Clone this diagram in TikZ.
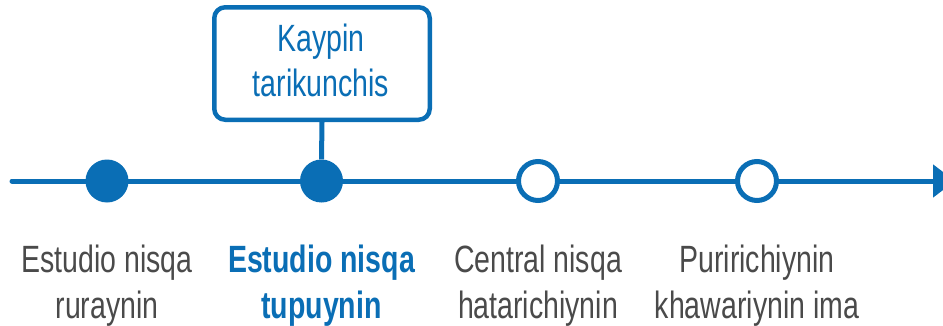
\documentclass[tikz,border=0pt]{standalone}
\usepackage{fontspec}
\setmainfont{Liberation Sans}[FakeStretch=0.75]
\usetikzlibrary{arrows.meta}
\definecolor{tlblue}{HTML}{0A6EB5}
\definecolor{tlgray}{HTML}{4A4A4A}
\begin{document}
\begin{tikzpicture}[x=1pt,y=1pt,
  full/.style={circle, fill=tlblue, minimum size=43pt, inner sep=0pt},
  hollow/.style={circle, draw=tlblue, line width=5pt, fill=white, minimum size=39pt, inner sep=0pt},
  lbl/.style={align=center, font=\fontsize{38}{46}\selectfont, text=tlgray, anchor=base, inner sep=0pt},
  axisline/.style={draw=tlblue, line width=5pt},
  callout/.style={draw=tlblue, line width=4.5pt, rounded corners=11pt, fill=white,
    minimum width=215.5pt, minimum height=112.5pt, inner sep=0pt},
  boxtext/.style={align=center, font=\fontsize{38}{45}\selectfont, text=tlblue, inner sep=0pt}]
\clip (0,0) rectangle (943,325);
\useasboundingbox (0,0) rectangle (943,325);
\coordinate (s) at (12,144);
\coordinate (e) at (955,144);
\draw[axisline, line cap=round, -{Triangle[length=22pt,width=32pt]}] (s) -- (e);
\node[full] (c1) at (107,144) {};
\node[full] (c2) at (321.5,144) {};
\node[hollow] (c3) at (538,144) {};
\node[hollow] (c4) at (757,144) {};
\node[callout] (box) at (322,261.5) {};
\node[boxtext] (bt) at (321,264.5) {Kaypin\\tarikunchis};
\draw[axisline] (box.south) -- (c2.north);
\node[lbl] (l1) at (107,7) {Estudio nisqa\\ruraynin};
\node[lbl, text=tlblue, font=\fontsize{38}{46}\selectfont\bfseries] (l2) at (321.5,7) {Estudio nisqa\\tupuynin};
\node[lbl] (l3) at (538,7) {Central nisqa\\hatarichiynin};
\node[lbl] (l4) at (757,7) {Puririchiynin\\khawariynin ima};
\end{tikzpicture}
\end{document}
